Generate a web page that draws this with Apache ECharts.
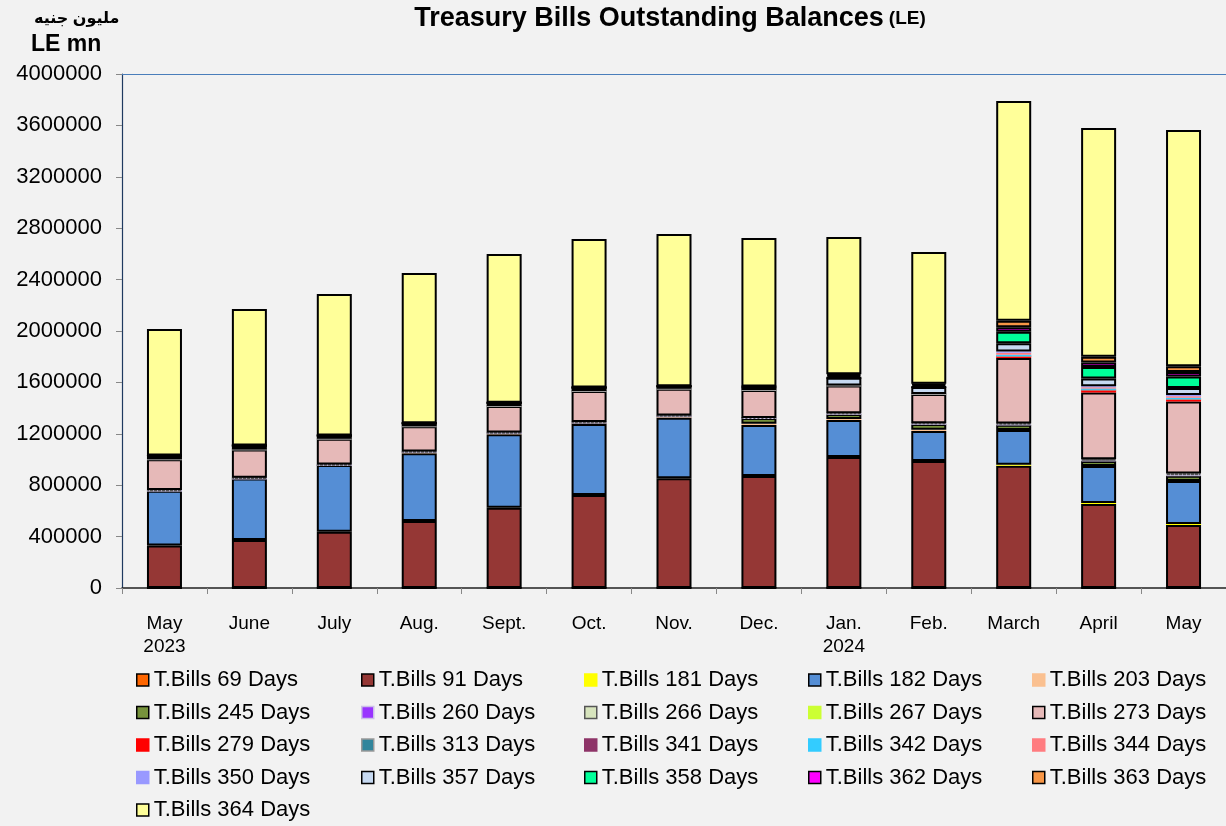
<!DOCTYPE html>
<html>
<head>
    <meta charset="utf-8" />
    <title>Treasury Bills Outstanding Balances</title>
    <script src="https://cdn.jsdelivr.net/npm/echarts@6/dist/echarts.min.js"></script>
    <style>
        body { margin: 0; background: #f2f2f2; }
    </style>
</head>
<body>
    <div id="main" style="width: 1226px;height:826px;"></div>
    <script type="text/javascript">
        // months on the x axis
        var months = ['May\n2023', 'June', 'July', 'Aug.', 'Sept.', 'Oct.', 'Nov.', 'Dec.', 'Jan.\n2024', 'Feb.', 'March', 'April', 'May'];
        var yTicks = [0, 400000, 800000, 1200000, 1600000, 2000000, 2400000, 2800000, 3200000, 3600000, 4000000];

        // outstanding balances, LE mn
        var d69  = [0, 0, 0, 0, 0, 0, 0, 0, 0, 0, 0, 0, 0];
        var d91  = [330000, 373000, 438000, 521000, 625000, 724000, 854000, 872000, 1019000, 988000, 952000, 654000, 490000];
        var d181 = [0, 0, 0, 0, 0, 0, 0, 0, 0, 0, 8000, 8000, 8000];
        var d182 = [427000, 480000, 519000, 527000, 571000, 552000, 471000, 396000, 288000, 234000, 270000, 287000, 335000];
        var d203 = [0, 0, 0, 10000, 10000, 10000, 12000, 10000, 8000, 10000, 0, 0, 0];
        var d245 = [0, 0, 0, 0, 0, 0, 0, 45000, 40000, 45000, 40000, 40000, 40000];
        var d260 = [0, 0, 0, 0, 0, 0, 0, 0, 0, 0, 5000, 5000, 8000];
        var d266 = [5000, 5000, 5000, 5000, 5000, 5000, 5000, 0, 5000, 5000, 5000, 8000, 10000];
        var d267 = [0, 0, 0, 0, 0, 0, 0, 0, 0, 0, 0, 0, 0];
        var d273 = [240000, 220000, 200000, 195000, 205000, 242000, 209000, 218000, 216000, 228000, 510000, 520000, 560000];
        var d279 = [0, 0, 0, 0, 0, 0, 0, 0, 0, 0, 15000, 20000, 20000];
        var d313 = [0, 0, 0, 0, 0, 0, 0, 0, 0, 0, 0, 0, 0];
        var d341 = [0, 0, 0, 0, 0, 0, 0, 0, 0, 0, 0, 0, 0];
        var d342 = [0, 0, 0, 0, 0, 0, 0, 0, 0, 0, 10000, 10000, 10000];
        var d344 = [0, 0, 0, 0, 0, 0, 0, 0, 0, 0, 15000, 10000, 12000];
        var d350 = [0, 0, 0, 0, 0, 0, 0, 0, 0, 0, 10000, 8000, 8000];
        var d357 = [30000, 30000, 25000, 25000, 25000, 28000, 20000, 20000, 60000, 55000, 65000, 60000, 55000];
        var d358 = [0, 0, 0, 0, 0, 0, 0, 0, 0, 0, 90000, 90000, 90000];
        var d362 = [0, 0, 0, 0, 0, 0, 0, 8000, 15000, 15000, 35000, 35000, 35000];
        var d363 = [0, 0, 0, 0, 0, 0, 0, 0, 12000, 10000, 50000, 45000, 45000];
        var d364 = [983000, 1063000, 1101000, 1168000, 1158000, 1155000, 1184000, 1155000, 1068000, 1025000, 1710000, 1780000, 1838000];

        // name, data, fill colour, border (null = none)
        var defs = [
            ['T.Bills 69 Days', d69, '#ff6600', '#000'],
            ['T.Bills 91 Days', d91, '#953735', '#000'],
            ['T.Bills 181 Days', d181, '#ffff00', null],
            ['T.Bills 182 Days', d182, '#558ed5', '#000'],
            ['T.Bills 203 Days', d203, '#fac090', null],
            ['T.Bills 245 Days', d245, '#77933c', '#000'],
            ['T.Bills 260 Days', d260, '#9933ff', '#ccc0e8'],
            ['T.Bills 266 Days', d266, '#d7e4bd', '#555'],
            ['T.Bills 267 Days', d267, '#ccff33', null],
            ['T.Bills 273 Days', d273, '#e6b9b8', '#000'],
            ['T.Bills 279 Days', d279, '#ff0000', null],
            ['T.Bills 313 Days', d313, '#31859c', '#999'],
            ['T.Bills 341 Days', d341, '#8e3468', null],
            ['T.Bills 342 Days', d342, '#33ccff', null],
            ['T.Bills 344 Days', d344, '#ff7c80', null],
            ['T.Bills 350 Days', d350, '#9999ff', null],
            ['T.Bills 357 Days', d357, '#c6d9f1', '#000'],
            ['T.Bills 358 Days', d358, '#00ff99', '#000'],
            ['T.Bills 362 Days', d362, '#ff00ff', '#000'],
            ['T.Bills 363 Days', d363, '#f79646', '#000'],
            ['T.Bills 364 Days', d364, '#ffff99', '#000']
        ];

        var series = defs.map(function(d) {
            return {
                name: d[0],
                type: 'bar',
                stack: 'total',
                barWidth: 35,
                data: d[1],
                itemStyle: {
                    color: d[2],
                    borderColor: d[3] || d[2],
                    borderWidth: d[3] ? 2 : 0,
                    borderType: d[0] == 'T.Bills 266 Days' ? 'dotted' : 'solid'
                },
                emphasis: { disabled: true }
            };
        });

        // legend laid out in 5 columns like the original
        var cols = [
            ['T.Bills 69 Days', 'T.Bills 245 Days', 'T.Bills 279 Days', 'T.Bills 350 Days', 'T.Bills 364 Days'],
            ['T.Bills 91 Days', 'T.Bills 260 Days', 'T.Bills 313 Days', 'T.Bills 357 Days'],
            ['T.Bills 181 Days', 'T.Bills 266 Days', 'T.Bills 341 Days', 'T.Bills 358 Days'],
            ['T.Bills 182 Days', 'T.Bills 267 Days', 'T.Bills 342 Days', 'T.Bills 362 Days'],
            ['T.Bills 203 Days', 'T.Bills 273 Days', 'T.Bills 344 Days', 'T.Bills 363 Days']
        ];
        var colX = [136, 361, 584, 808, 1032];
        var legends = cols.map(function(c, i) {
            return {
                data: c,
                orient: 'vertical',
                left: colX[i],
                top: 669,
                itemWidth: 12,
                itemHeight: 12,
                itemGap: 10.5,
                padding: 0,
                icon: 'rect',
                selectedMode: false,
                itemStyle: { borderWidth: 1.5 },
                textStyle: {
                    fontFamily: 'Liberation Sans',
                    fontSize: 22,
                    color: '#000',
                    lineHeight: 21
                }
            };
        });

        var font = 'Liberation Sans, DejaVu Sans';
        var myChart = echarts.init(document.getElementById('main'));
        var option = {
            backgroundColor: '#f2f2f2',
            animation: false,
            title: {
                text: '{a|Treasury Bills Outstanding Balances} {b|(LE)}',
                left: 665,
                top: 0,
                textAlign: 'center',
                textStyle: {
                    rich: {
                        a: { fontFamily: font, fontSize: 27, fontWeight: 'bold', color: '#000' },
                        b: { fontFamily: font, fontSize: 19, fontWeight: 'bold', color: '#000' }
                    }
                }
            },
            graphic: [
                { type: 'text', left: 34, top: 11, style: { text: 'مليون جنيه', font: 'bold 16px ' + font, fill: '#000' } },
                { type: 'text', left: 31, top: 33, style: { text: 'LE mn', font: 'bold 23px ' + font, fill: '#000' } }
            ],
            legend: legends,
            grid: {
                left: 122,
                right: 0,
                top: 74,
                bottom: 238
            },
            xAxis: [{
                type: 'category',
                data: months,
                axisLine: { lineStyle: { color: '#222', width: 1.5 } },
                axisTick: { show: true, length: 6, lineStyle: { color: '#888' } },
                axisLabel: {
                    fontFamily: font,
                    fontSize: 19,
                    color: '#000',
                    lineHeight: 23,
                    margin: 24
                }
            }, {
                type: 'category',
                data: months,
                position: 'top',
                axisLine: { lineStyle: { color: '#4a7ebb', width: 1.2 } },
                axisTick: { show: false },
                axisLabel: { show: false }
            }],
            yAxis: {
                type: 'value',
                min: yTicks[0],
                max: yTicks[yTicks.length - 1],
                interval: yTicks[1] - yTicks[0],
                splitLine: { show: false },
                axisLine: { show: true, lineStyle: { color: '#1f3a60', width: 1.2 } },
                axisTick: { show: true, length: 6, lineStyle: { color: '#888' } },
                axisLabel: {
                    fontFamily: font,
                    fontSize: 22,
                    color: '#000',
                    margin: 20,
                    formatter: function(v) { return String(v); }
                }
            },
            series: series
        };
        myChart.setOption(option);
    </script>
</body>
</html>
